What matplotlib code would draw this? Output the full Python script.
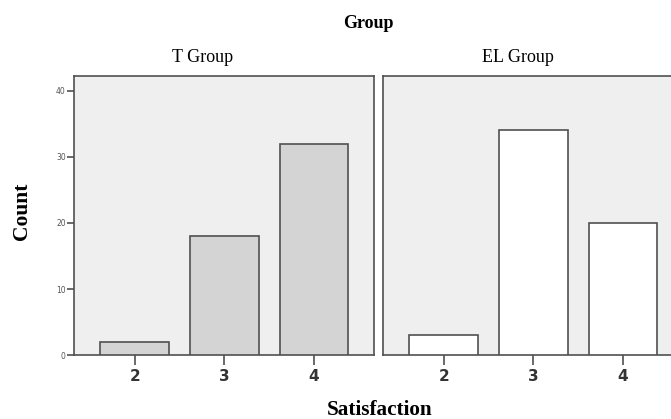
import matplotlib
matplotlib.use("Agg")

import matplotlib.pyplot as plt

# data
satisfaction = [2, 3, 4]
groups = ["T Group", "EL Group"]
t_counts = [2, 18, 32]
el_counts = [3, 34, 20]
y_ticks = [0, 10, 20, 30, 40]

bar_colors = {"T Group": "#d4d4d4", "EL Group": "#ffffff"}
counts = {"T Group": t_counts, "EL Group": el_counts}

fig = plt.figure(figsize=(6.71, 4.19), dpi=100)
W, H = 671, 419

def px_axes(x0, y0, x1, y1):
    return fig.add_axes([x0 / W, 1 - y1 / H, (x1 - x0) / W, (y1 - y0) / H])

ax_t = px_axes(74, 76, 374, 355.3)
ax_el = px_axes(383, 76, 683, 355.3)

serif = "Liberation Serif"
edge = "#505050"

# panel titles sit a bit left of the panel centres in the original
title_x = {"T Group": 203, "EL Group": 518}

for ax, name in [(ax_t, "T Group"), (ax_el, "EL Group")]:
    ax.set_facecolor("#efefef")
    ax.bar(satisfaction, counts[name], width=0.77, color=bar_colors[name],
           edgecolor=edge, linewidth=1.2, zorder=3)
    ax.set_xlim(1.32, 4.67)
    ax.set_ylim(0, 42.2)
    ax.set_xticks(satisfaction)
    ax.set_xticklabels([str(s) for s in satisfaction], fontsize=11,
                       fontweight="bold", color="#333333", family="DejaVu Sans")
    ax.tick_params(axis="x", direction="out", length=7, width=1.2,
                   color=edge, pad=3)
    for s in ax.spines.values():
        s.set_color(edge)
        s.set_linewidth(1.2)
    fig.text(title_x[name] / W, 1 - 57 / H, name, ha="center", va="center",
             fontsize=13, family=serif)

ax_t.set_yticks(y_ticks)
ax_t.set_yticklabels([str(v) for v in y_ticks], fontsize=5.5, color="#555555")
ax_t.tick_params(axis="y", direction="out", length=5, width=1.2, color=edge, pad=1)
ax_el.set_yticks([])

fig.text(368 / W, 1 - 24 / H, "Group", ha="center", va="center",
         fontsize=13, fontweight="bold", family=serif)
fig.text(22 / W, 1 - 211 / H, "Count", ha="center", va="center", rotation=90,
         fontsize=15.5, fontweight="bold", family=serif)
fig.text(380 / W, 1 - 410 / H, "Satisfaction", ha="center", va="center",
         fontsize=15.3, fontweight="bold", family=serif)

fig.savefig("out.png", dpi=100)
